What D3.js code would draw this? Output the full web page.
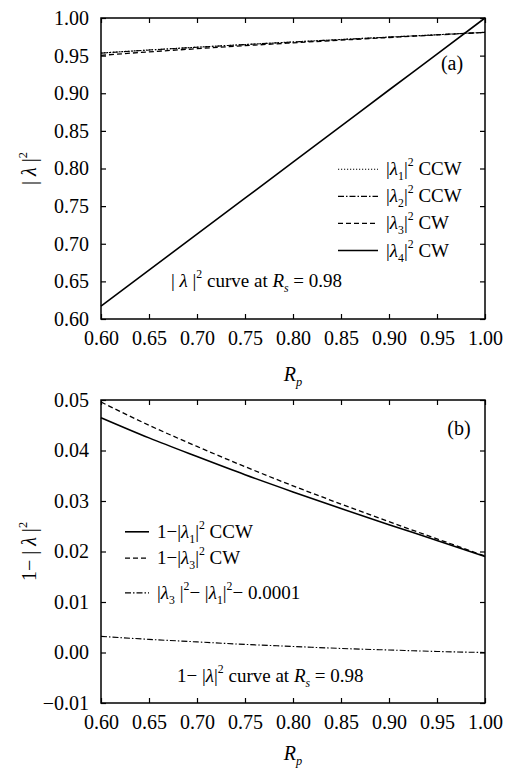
<!DOCTYPE html>
<html><head><meta charset="utf-8">
<script src="https://cdn.jsdelivr.net/npm/d3@7"></script>
<style>
html,body{margin:0;padding:0;background:#fff;}
svg, svg text{font-family:"Liberation Serif","Times New Roman",serif;fill:#000;}
</style></head>
<body>
<svg id="c" width="507" height="768"></svg>
<script>
// ---- data ----
const rp = [0.60, 0.65, 0.70, 0.75, 0.80, 0.85, 0.90, 0.95, 1.00];
// panel (a): |lambda|^2
const lam1CCW = [0.9535, 0.9575, 0.9612, 0.9648, 0.9682, 0.9715, 0.9747, 0.9778, 0.9810];
const lam2CCW = [0.9533, 0.9574, 0.9611, 0.9647, 0.9681, 0.9714, 0.9746, 0.9777, 0.9809];
const lam3CW  = [0.9504, 0.9550, 0.9592, 0.9632, 0.9670, 0.9706, 0.9741, 0.9775, 0.9809];
const lam4CW  = [0.6170, 0.6649, 0.7128, 0.7606, 0.8085, 0.8564, 0.9043, 0.9521, 1.0000];
// panel (b): 1-|lambda|^2
const one_lam1CCW = [0.0465, 0.0425, 0.0388, 0.0352, 0.0318, 0.0285, 0.0253, 0.0222, 0.0190];
const one_lam3CW  = [0.0496, 0.0450, 0.0408, 0.0368, 0.0330, 0.0294, 0.0259, 0.0225, 0.0191];
const diffCurve   = [0.0032, 0.0026, 0.0021, 0.0016, 0.0012, 0.0008, 0.0005, 0.0002, 0.0000];
// ticks
const xTicks = [0.60, 0.65, 0.70, 0.75, 0.80, 0.85, 0.90, 0.95, 1.00];
const yTicksA = [0.60, 0.65, 0.70, 0.75, 0.80, 0.85, 0.90, 0.95, 1.00];
const yTicksB = [-0.01, 0.00, 0.01, 0.02, 0.03, 0.04, 0.05];

const svg = d3.select("#c");
const L = 101, R = 485;
const FS = 20;
const FONT = "Liberation Serif, Times New Roman, serif";

function rich(g, x, y, parts, opts = {}) {
  const t = g.append("text").attr("x", x).attr("y", y).attr("font-size", opts.fs || FS).attr("font-family", FONT);
  if (opts.anchor) t.attr("text-anchor", opts.anchor);
  if (opts.transform) t.attr("transform", opts.transform);
  let shift = 0;
  parts.forEach(p => {
    const s = t.append("tspan").text(p.t);
    let target = 0;
    if (p.sub) target = 5;
    if (p.sup) target = -9;
    const dy = target - shift;
    if (dy !== 0) s.attr("dy", dy);
    shift = target;
    if (p.sub || p.sup) s.attr("font-size", (opts.fs || FS) * 0.62);
    if (p.i) s.attr("font-style", "italic");
  });
  return t;
}

function panel(top, bottom, yDomain, yTicks, yFmt) {
  const x = d3.scaleLinear().domain([0.6, 1.0]).range([L, R]);
  const y = d3.scaleLinear().domain(yDomain).range([bottom, top]);
  const g = svg.append("g");
  const styleAxis = a => {
    a.attr("font-family", FONT).attr("font-size", FS);
    a.select(".domain").remove();
    a.selectAll(".tick line").attr("stroke", "#000").attr("stroke-width", 1.2);
    a.selectAll("text").attr("font-size", FS).attr("font-family", FONT).attr("fill", "#000");
  };
  g.append("g").attr("transform", `translate(0,${bottom})`)
    .call(d3.axisBottom(x).tickValues(xTicks).tickSizeInner(-5).tickSizeOuter(0).tickPadding(12).tickFormat(d3.format(".2f")))
    .call(styleAxis);
  g.append("g").attr("transform", `translate(0,${top})`)
    .call(d3.axisTop(x).tickValues(xTicks).tickSizeInner(-5).tickSizeOuter(0).tickFormat(""))
    .call(styleAxis);
  g.append("g").attr("transform", `translate(${L},0)`)
    .call(d3.axisLeft(y).tickValues(yTicks).tickSizeInner(-5).tickSizeOuter(0).tickPadding(12).tickFormat(yFmt))
    .call(styleAxis);
  g.append("g").attr("transform", `translate(${R},0)`)
    .call(d3.axisRight(y).tickValues(yTicks).tickSizeInner(-5).tickSizeOuter(0).tickFormat(""))
    .call(styleAxis);
  g.append("rect").attr("x", L).attr("y", top).attr("width", R - L).attr("height", bottom - top)
    .attr("fill", "none").attr("stroke", "#000").attr("stroke-width", 1.5);
  return { x, y, g };
}

function drawLine(p, ys, dash, w) {
  const line = d3.line().x((d, i) => p.x(rp[i])).y(d => p.y(d)).curve(d3.curveMonotoneX);
  p.g.append("path").datum(ys).attr("d", line).attr("fill", "none")
    .attr("stroke", "#000").attr("stroke-width", w).attr("stroke-dasharray", dash);
}

const minusFmt = d => (d < 0 ? "\u22120" + d3.format(".2f")(-d).slice(1) : d3.format(".2f")(d));

// ----- panel (a) -----
const A = panel(18, 319, [0.6, 1.0], yTicksA, d3.format(".2f"));
drawLine(A, lam1CCW, "1.2,1.8", 1.1);
drawLine(A, lam2CCW, "6,2,1.5,2", 1.1);
drawLine(A, lam3CW, "5,3", 1.3);
drawLine(A, lam4CW, null, 1.6);

rich(svg, 452, 70, [{t:"(a)"}], {anchor: "middle"});
const legA = [
  {dash: "1.2,1.8", w: 1.1, n: "1", lab: " CCW"},
  {dash: "6,2,1.5,2", w: 1.1, n: "2", lab: " CCW"},
  {dash: "5,3", w: 1.3, n: "3", lab: " CW"},
  {dash: null, w: 1.6, n: "4", lab: " CW"}
];
const legAy = [0.799, 0.763, 0.727, 0.691];
legA.forEach((e, i) => {
  const yy = A.y(legAy[i]);
  svg.append("line").attr("x1", 338).attr("x2", 378).attr("y1", yy).attr("y2", yy)
    .attr("stroke", "#000").attr("stroke-width", e.w).attr("stroke-dasharray", e.dash);
  rich(svg, 386, yy + 6, [{t:"|"}, {t:"λ", i:true}, {t:e.n, sub:true}, {t:"|"}, {t:"2", sup:true}, {t:e.lab}], {fs: 19});
});
rich(svg, 171, A.y(0.65) + 6, [{t:"| "}, {t:"λ", i:true}, {t:" |"}, {t:"2", sup:true}, {t:" curve at "}, {t:"R", i:true}, {t:"s", sub:true, i:true}, {t:" = 0.98"}], {fs: 19});
rich(svg, (L + R) / 2, 381, [{t:"R", i:true}, {t:"p", sub:true, i:true}], {anchor: "middle"});
rich(svg, 0, 0, [{t:"| "}, {t:"λ", i:true}, {t:" |"}, {t:"2", sup:true}], {anchor: "middle", transform: `translate(36,${(18 + 319) / 2}) rotate(-90)`});

// ----- panel (b) -----
const B = panel(400, 703, [-0.01, 0.05], yTicksB, minusFmt);
drawLine(B, one_lam1CCW, null, 1.6);
drawLine(B, one_lam3CW, "5,3", 1.3);
drawLine(B, diffCurve, "6,2,1.5,2", 1.1);

rich(svg, 459, 435, [{t:"(b)"}], {anchor: "middle"});
const legB = [
  {dash: null, w: 1.6, parts: [{t:"1\u2212|"}, {t:"λ", i:true}, {t:"1", sub:true}, {t:"|"}, {t:"2", sup:true}, {t:" CCW"}]},
  {dash: "5,3", w: 1.3, parts: [{t:"1\u2212|"}, {t:"λ", i:true}, {t:"3", sub:true}, {t:"|"}, {t:"2", sup:true}, {t:" CW"}]},
  {dash: "6,2,1.5,2", w: 1.1, parts: [{t:" |"}, {t:"λ", i:true}, {t:"3", sub:true}, {t:" |"}, {t:"2", sup:true}, {t:"\u2212 |"}, {t:"λ", i:true}, {t:"1", sub:true}, {t:"|"}, {t:"2", sup:true}, {t:"\u2212 0.0001"}]}
];
const legBy = [0.0239, 0.0187, 0.0118];
legB.forEach((e, i) => {
  const yy = B.y(legBy[i]);
  svg.append("line").attr("x1", 125).attr("x2", 149).attr("y1", yy).attr("y2", yy)
    .attr("stroke", "#000").attr("stroke-width", e.w).attr("stroke-dasharray", e.dash);
  rich(svg, 157, yy + 6, e.parts, {fs: 19});
});
rich(svg, 177, B.y(-0.0045) + 7, [{t:"1\u2212 |"}, {t:"λ", i:true}, {t:"|"}, {t:"2", sup:true}, {t:" curve at "}, {t:"R", i:true}, {t:"s", sub:true, i:true}, {t:" = 0.98"}], {fs: 19});
rich(svg, (L + R) / 2, 760, [{t:"R", i:true}, {t:"p", sub:true, i:true}], {anchor: "middle"});
rich(svg, 0, 0, [{t:"1\u2212 | "}, {t:"λ", i:true}, {t:" |"}, {t:"2", sup:true}], {anchor: "middle", transform: `translate(36,${(400 + 703) / 2}) rotate(-90)`});
</script>
</body></html>
